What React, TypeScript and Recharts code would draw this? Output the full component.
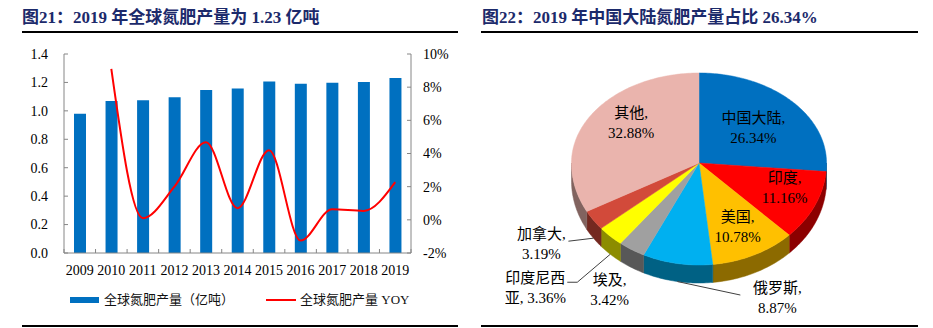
import React from "react";
import { ComposedChart, Bar, Line, XAxis, YAxis, Legend, PieChart, Pie } from "recharts";

// left chart: global nitrogen fertilizer output
const years = ["2009", "2010", "2011", "2012", "2013", "2014", "2015", "2016", "2017", "2018", "2019"];
const output = [0.98, 1.07, 1.075, 1.095, 1.147, 1.157, 1.206, 1.19, 1.198, 1.203, 1.232];
const yoy = [null, 9.1, 0.1, 2.0, 4.68, 0.7, 4.2, -1.25, 0.64, 0.54, 2.27];
const leftTicks = [0, 0.2, 0.4, 0.6, 0.8, 1.0, 1.2, 1.4];
const rightTicks = [-2, 0, 2, 4, 6, 8, 10];

// right chart: share of 2019 output by region
const regions = ["中国大陆", "印度", "美国", "俄罗斯", "埃及", "印度尼西亚", "加拿大", "其他"];
const shares = [26.34, 11.16, 10.78, 8.87, 3.42, 3.36, 3.19, 32.88];
const sliceColors = ["#0070C0", "#FF0000", "#FFC000", "#00B0F0", "#A0A0A0", "#FFFF00", "#D24A3A", "#EAB4AD"];

const barData = years.map((year, i) => ({ year, output: output[i], yoy: yoy[i] }));
const pieData = regions.map((name, i) => ({ name, value: shares[i] }));

const SERIF = "'Liberation Serif', 'Noto Sans CJK SC', serif";
const BLUE = "#0070C0";
const RED = "#FF0000";
const AXIS = "#868686";
const TITLE = "#1C2A6B";

// left chart layout
const CH_W = 470;
const CH_H = 328;
const PLOT_L = 64;
const PLOT_R = 411;
const BAND = (PLOT_R - PLOT_L) / years.length;

// pie layout (3d look, ellipse)
const RX = 127.5;
const RY_TOP = 90;
const RY_BOTTOM = 102;
const DEPTH = 18;

const labelLayout: any[] = [
  { k: 0.58, nx: 0, ny: 0 },
  { k: 0.74, nx: 0, ny: -7 },
  { k: 0.7, nx: 0, ny: 0 },
  { t: 1, dx: 100, dy: 16.5, leader: [[63, 13.5]] },
  { t: 1, dx: -22, dy: 22.4 },
  { t: 1, dx: -75, dy: 34, leader: [[-33, 28], [-43, 28]] },
  { t: 1, dx: -52, dy: 6, leader: [[-25, 3]] },
  { k: 0.62, nx: 0, ny: -11 },
];

const ellipsePoint = (cx: number, cy: number, deg: number, dy = 0) => {
  const r = (deg * Math.PI) / 180;
  const s = Math.sin(r);
  return [cx + RX * Math.cos(r), cy - (s > 0 ? RY_TOP : RY_BOTTOM) * s + dy];
};

const arcPoints = (cx: number, cy: number, from: number, to: number, dy = 0) => {
  const n = Math.max(2, Math.ceil(Math.abs(to - from)));
  const pts = [];
  for (let i = 0; i <= n; i++) pts.push(ellipsePoint(cx, cy, from + ((to - from) * i) / n, dy));
  return pts;
};

const darken = (hex: string, f = 0.55) => {
  const n = parseInt(hex.slice(1), 16);
  const r = Math.round(((n >> 16) & 255) * f);
  const g = Math.round(((n >> 8) & 255) * f);
  const b = Math.round((n & 255) * f);
  return `rgb(${r},${g},${b})`;
};

const renderFace = (props: any) => {
  const { cx, cy, startAngle, endAngle, index } = props;
  const a = Math.min(startAngle, endAngle);
  const b = Math.max(startAngle, endAngle);
  const color = sliceColors[index];
  const top = arcPoints(cx, cy, b, a);
  const topPath = `M${cx},${cy}L` + top.map((p) => p.join(",")).join("L") + "Z";
  const lo = Math.max(a, -180);
  const hi = Math.min(b, 0);
  let side = null;
  if (hi > lo) {
    const pts = [...arcPoints(cx, cy, lo, hi), ...arcPoints(cx, cy, hi, lo, DEPTH)];
    side = "M" + pts.map((p) => p.join(",")).join("L") + "Z";
  }
  return (
    <g key={`face-${index}`}>
      {side && <path d={side} fill={darken(color)} stroke={darken(color)} strokeWidth={0.5} />}
      <path d={topPath} fill={color} stroke={color} strokeWidth={0.5} />
    </g>
  );
};

const labelLines = (i: number) => {
  const name = regions[i];
  if (name.length > 4) return [name.slice(0, 4), `${name.slice(4)}, ${shares[i].toFixed(2)}%`];
  return [`${name},`, `${shares[i].toFixed(2)}%`];
};

const renderText = (props: any) => {
  const { cx, cy, midAngle, index } = props;
  const lay = labelLayout[index];
  let x: number;
  let y: number;
  let leader = null;
  if (lay.k) {
    const [ex, ey] = ellipsePoint(cx, cy, midAngle);
    x = cx + (ex - cx) * lay.k + lay.nx;
    y = cy + (ey - cy) * lay.k + lay.ny;
  } else {
    const [ax, ay] = ellipsePoint(cx, cy, midAngle, DEPTH * lay.t);
    x = ax + lay.dx;
    y = ay + lay.dy;
    if (lay.leader) {
      const pts = [[ax, ay], ...lay.leader.map(([px, py]: number[]) => [ax + px, ay + py])];
      leader = <polyline points={pts.map((p) => p.join(",")).join(" ")} fill="none" stroke="#404040" strokeWidth={1} />;
    }
  }
  const lines = labelLines(index);
  return (
    <g key={`lbl-${index}`}>
      {leader}
      <text textAnchor="middle" fontFamily={SERIF} fontSize={15} fill="#000">
        <tspan x={x} y={y - 10} dominantBaseline="central">{lines[0]}</tspan>
        <tspan x={x} y={y + 10} dominantBaseline="central">{lines[1]}</tspan>
      </text>
    </g>
  );
};

const XTick = (props: any) => {
  const { x, y, payload, index } = props;
  const axisY = y - 12;
  return (
    <g>
      <line x1={x - BAND / 2} x2={x - BAND / 2} y1={axisY} y2={axisY - 4} stroke={AXIS} />
      {index === years.length - 1 && <line x1={x + BAND / 2} x2={x + BAND / 2} y1={axisY} y2={axisY - 4} stroke={AXIS} />}
      <text x={x} y={y} dy="0.71em" textAnchor="middle" fontFamily={SERIF} fontSize={14} fill="#000">
        {payload.value}
      </text>
    </g>
  );
};

const LeftTick = (props: any) => {
  const { x, y, payload } = props;
  return (
    <g>
      <line x1={x + 16} x2={x + 20} y1={y} y2={y} stroke={AXIS} />
      <text x={x} y={y} dy="0.35em" textAnchor="end" fontFamily={SERIF} fontSize={14} fill="#000">
        {Number(payload.value).toFixed(1)}
      </text>
    </g>
  );
};

const RightTick = (props: any) => {
  const { x, y, payload } = props;
  return (
    <g>
      <line x1={x - 12} x2={x - 16} y1={y} y2={y} stroke={AXIS} />
      <text x={x} y={y} dy="0.35em" textAnchor="start" fontFamily={SERIF} fontSize={14} fill="#000">
        {`${payload.value}%`}
      </text>
    </g>
  );
};

const LegendContent = () => (
  <div style={{ position: "relative", width: CH_W, height: 30, fontFamily: SERIF, fontSize: 13, color: "#111" }}>
    <div style={{ position: "absolute", left: 70, top: 14, width: 29, height: 6, background: BLUE }} />
    <div style={{ position: "absolute", left: 104, top: 8, lineHeight: "18px", whiteSpace: "nowrap" }}>全球氮肥产量（亿吨）</div>
    <div style={{ position: "absolute", left: 266, top: 16, width: 30, height: 2, background: RED }} />
    <div style={{ position: "absolute", left: 300, top: 8, lineHeight: "18px", whiteSpace: "nowrap" }}>全球氮肥产量 YOY</div>
  </div>
);

const titleStyle: React.CSSProperties = {
  position: "absolute",
  top: 7,
  fontFamily: SERIF,
  fontWeight: 700,
  fontSize: 17,
  lineHeight: "22px",
  color: TITLE,
  whiteSpace: "nowrap",
};

const rule = (left: number, top: number, width: number): React.CSSProperties => ({
  position: "absolute",
  left,
  top,
  width,
  height: 2,
  background: "#000",
});

export default function App() {
  return (
    <div style={{ position: "absolute", left: 0, top: 0, width: 933, height: 328, background: "#fff" }}>
      <div style={{ ...titleStyle, left: 22 }}>图21：2019 年全球氮肥产量为 1.23 亿吨</div>
      <div style={rule(22, 31, 436)} />
      <div style={rule(22, 325, 436)} />
      <div style={{ ...titleStyle, left: 482 }}>图22：2019 年中国大陆氮肥产量占比 26.34%</div>
      <div style={rule(481, 31, 437)} />
      <div style={rule(481, 325, 437)} />

      <div style={{ position: "absolute", left: 0, top: 0 }}>
        <ComposedChart width={CH_W} height={CH_H} data={barData} margin={{ top: 54, right: 14, bottom: 15, left: 14 }}>
          <XAxis
            dataKey="year"
            axisLine={{ stroke: AXIS }}
            tickLine={false}
            tickSize={0}
            tickMargin={12}
            height={30}
            interval={0}
            tick={XTick}
          />
          <YAxis
            yAxisId="l"
            domain={[0, 1.4]}
            ticks={leftTicks}
            width={50}
            axisLine={{ stroke: AXIS }}
            tickLine={false}
            tickSize={0}
            tickMargin={16}
            interval={0}
            tick={LeftTick}
          />
          <YAxis
            yAxisId="r"
            orientation="right"
            domain={[-2, 10]}
            ticks={rightTicks}
            width={45}
            axisLine={{ stroke: AXIS }}
            tickLine={false}
            tickSize={0}
            tickMargin={12}
            interval={0}
            tick={RightTick}
          />
          <Legend verticalAlign="bottom" height={30} content={LegendContent} wrapperStyle={{ left: 0, width: CH_W }} />
          <Bar yAxisId="l" dataKey="output" fill={BLUE} barSize={12} isAnimationActive={false} />
          <Line
            yAxisId="r"
            dataKey="yoy"
            type="monotone"
            stroke={RED}
            strokeWidth={2}
            dot={false}
            activeDot={false}
            isAnimationActive={false}
          />
        </ComposedChart>
      </div>

      <div style={{ position: "absolute", left: 470, top: 0 }}>
        <PieChart width={463} height={328} margin={{ top: 0, right: 0, bottom: 0, left: 0 }}>
          <Pie
            data={pieData}
            dataKey="value"
            cx={229}
            cy={163}
            outerRadius={127}
            startAngle={90}
            endAngle={-270}
            fill="none"
            stroke="none"
            labelLine={false}
            label={renderFace}
            isAnimationActive={false}
          />
          <Pie
            data={pieData}
            dataKey="value"
            cx={229}
            cy={163}
            outerRadius={127}
            startAngle={90}
            endAngle={-270}
            fill="none"
            stroke="none"
            labelLine={false}
            label={renderText}
            isAnimationActive={false}
          />
        </PieChart>
      </div>
    </div>
  );
}
